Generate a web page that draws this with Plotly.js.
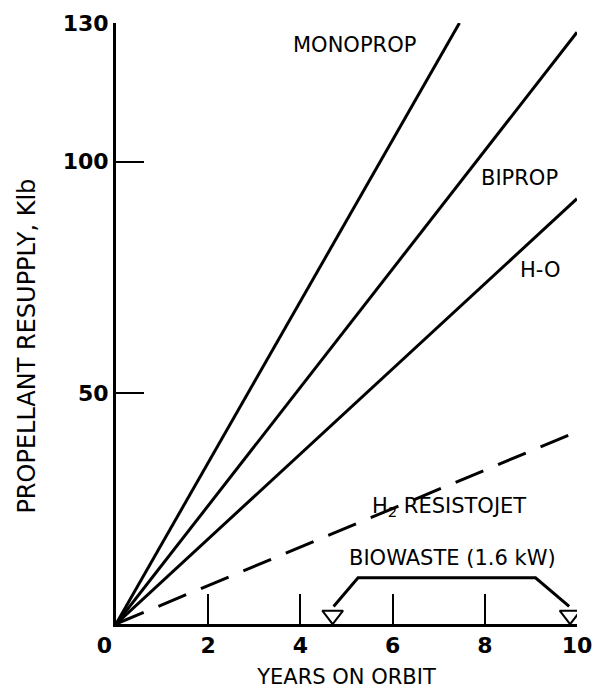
<!DOCTYPE html>
<html>
<head>
<meta charset="utf-8">
<script src="https://cdn.plot.ly/plotly-3.0.1.min.js"></script>
<style>
html,body{margin:0;padding:0;background:#fff;}
#chart{width:593px;height:695px;}
</style>
</head>
<body>
<div id="chart"></div>
<script>
// Data
const monopropX = [0, 7.45];
const monopropY = [0, 130];
const bipropX = [0, 10];
const bipropY = [0, 128];
const hoX = [0, 10];
const hoY = [0, 92];
const resistojetX = [0, 10];
const resistojetY = [0, 41.6];
// Biowaste (1.6 kW) bracket and its two down-pointing markers
const biowasteX = [4.72, 5.25, 9.1, 9.83];
const biowasteY = [3.8, 10, 10, 3.8];
const biowasteMarkX = [4.7, 9.85];
const biowasteMarkY = [1.9, 1.9];

const xTicks = [0, 2, 4, 6, 8, 10];
const xTickText = ['0\u00a0\u00a0\u00a0', '2', '4', '6', '8', '10'];
const yTicks = [50, 100, 130];
const yTickText = ['50', '100', '130'];

const labelText = ['MONOPROP', 'BIPROP', 'H-O', 'H<sub>2</sub> RESISTOJET', 'BIOWASTE (1.6 kW)'];
const labelX = [5.18, 8.76, 9.2, 7.22, 7.31];
const labelY = [125.3, 96.5, 76.6, 25.3, 14.3];

const yTitleText = 'PROPELLANT RESUPPLY, Klb';
const yTitleY = 60;

const FONT = '"DejaVu Sans", sans-serif';
const lineStyle = {color: '#000', width: 3};

const traces = [
  {x: monopropX, y: monopropY, mode: 'lines', line: lineStyle, hoverinfo: 'skip'},
  {x: bipropX, y: bipropY, mode: 'lines', line: lineStyle, hoverinfo: 'skip'},
  {x: hoX, y: hoY, mode: 'lines', line: lineStyle, hoverinfo: 'skip'},
  {x: resistojetX, y: resistojetY, mode: 'lines', line: {color: '#000', width: 3, dash: '30px,16px'}, hoverinfo: 'skip'},
  {x: biowasteX, y: biowasteY, mode: 'lines', line: {color: '#000', width: 3}, hoverinfo: 'skip'},
  {x: biowasteMarkX, y: biowasteMarkY, mode: 'markers',
   marker: {symbol: 'triangle-down-open', size: 18, color: '#000', line: {color: '#000', width: 2}}, hoverinfo: 'skip'}
];

const annotations = labelText.map((t, i) => ({
  x: labelX[i], y: labelY[i], xref: 'x', yref: 'y', text: t, showarrow: false,
  font: {family: FONT, size: 21, color: '#000'}
}));
// y-axis title, placed like the original (a little below the plot middle)
annotations.push({
  x: 0, xref: 'paper', xshift: -89, xanchor: 'center',
  y: yTitleY, yref: 'y', yanchor: 'middle',
  text: yTitleText, textangle: -90, showarrow: false,
  font: {family: FONT, size: 24, color: '#000'}
});

const layout = {
  width: 593, height: 695,
  margin: {l: 116, r: 16, t: 23, b: 71},
  paper_bgcolor: '#fff', plot_bgcolor: '#fff',
  showlegend: false,
  font: {family: FONT, color: '#000'},
  xaxis: {
    range: [0, 10], showgrid: false, zeroline: false,
    showline: true, linecolor: '#000', linewidth: 3,
    tickmode: 'array', tickvals: xTicks, ticktext: xTickText,
    ticks: 'inside', ticklen: 30, tickwidth: 2, tickcolor: '#000',
    tickfont: {family: FONT, size: 22, color: '#000', weight: 'bold'},
    title: {text: 'YEARS ON ORBIT', font: {family: FONT, size: 21, color: '#000'}, standoff: 12}
  },
  yaxis: {
    range: [0, 130], showgrid: false, zeroline: false,
    showline: true, linecolor: '#000', linewidth: 3,
    tickmode: 'array', tickvals: yTicks, ticktext: yTickText,
    ticks: 'inside', ticklen: 28, tickwidth: 2, tickcolor: '#000',
    tickfont: {family: FONT, size: 22, color: '#000', weight: 'bold'}
  },
  annotations: annotations
};

Plotly.newPlot('chart', traces, layout, {displayModeBar: false, staticPlot: true});
</script>
</body>
</html>
